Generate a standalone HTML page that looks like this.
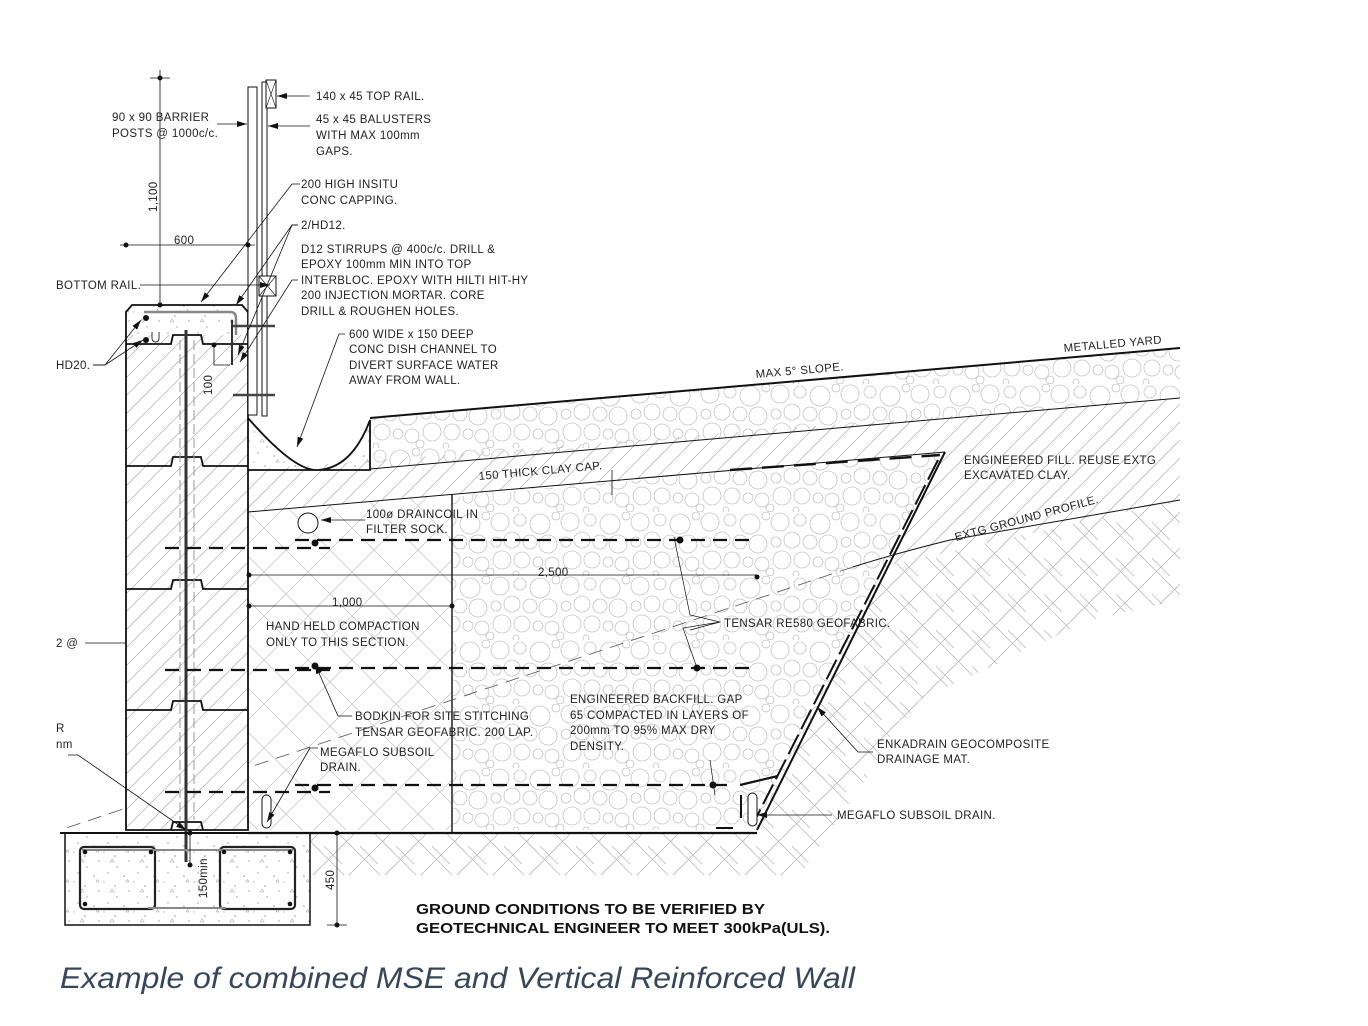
<!DOCTYPE html>
<html><head><meta charset="utf-8"><style>
html,body{margin:0;padding:0;background:#fff;width:1368px;height:1026px;overflow:hidden}
svg{display:block}
.t{font-family:"Liberation Sans",sans-serif;font-size:11.5px;fill:#222;letter-spacing:0.35px}
</style></head><body>
<svg width="1368" height="1026" viewBox="0 0 1368 1026" xmlns="http://www.w3.org/2000/svg">
<defs>
<pattern id="diag" width="18" height="18" patternUnits="userSpaceOnUse">
<path d="M0 18 L18 0 M-4 4 L4 -4 M14 22 L22 14" stroke="#bbb" stroke-width="0.8"/>
</pattern>
<pattern id="cross" width="44" height="44" patternUnits="userSpaceOnUse">
<path d="M0 44 L44 0 M0 0 L44 44" stroke="#ccc" stroke-width="0.8"/>
</pattern>
<pattern id="nat" width="36" height="36" patternUnits="userSpaceOnUse">
<path d="M0 36 L36 0 M-9 9 L9 -9 M27 45 L45 27 M0 27 L9 36 M0 18 L18 36 M9 0 L36 27" stroke="#bbb" stroke-width="0.8"/>
</pattern>
<pattern id="grav" width="70" height="64" patternUnits="userSpaceOnUse">
<g fill="none" stroke="#c4c4c4" stroke-width="0.8">
<circle cx="10" cy="10" r="9"/><circle cx="30" cy="8" r="6"/><circle cx="50" cy="12" r="10"/><circle cx="66" cy="4" r="4"/>
<circle cx="6" cy="30" r="5"/><circle cx="22" cy="28" r="8"/><circle cx="40" cy="30" r="7"/><circle cx="58" cy="32" r="9"/>
<circle cx="12" cy="48" r="9"/><circle cx="32" cy="48" r="8"/><circle cx="48" cy="50" r="5"/><circle cx="62" cy="52" r="7"/>
<circle cx="26" cy="62" r="3"/><circle cx="0" cy="60" r="4"/><circle cx="70" cy="60" r="4"/>
</g>
</pattern>
<pattern id="conc" width="30" height="30" patternUnits="userSpaceOnUse">
<g fill="#999"><circle cx="4" cy="6" r="0.8"/><circle cx="18" cy="3" r="0.7"/><circle cx="25" cy="16" r="0.8"/><circle cx="9" cy="21" r="0.7"/><circle cx="14" cy="12" r="0.6"/><circle cx="27" cy="27" r="0.7"/></g>
<path d="M20 22 l2 -3 l2 3z M6 12 l1.5 -2.5 l1.5 2.5z" fill="none" stroke="#aaa" stroke-width="0.6"/>
</pattern>
<marker id="ar" viewBox="0 0 10 6" refX="10" refY="3" markerWidth="10" markerHeight="6" orient="auto" markerUnits="userSpaceOnUse">
<path d="M0 0 L10 3 L0 6z" fill="#111"/>
</marker>
</defs>

<polygon points="248,470 1180,398 1180,500 890,565 757,830 248,830" fill="url(#diag)"/>
<polygon points="248,512 945,452 757,830 248,830" fill="#fff"/>
<polygon points="248,512 945,452 757,830 248,830" fill="url(#cross)"/>
<polygon points="452,497 945,452 757,830 452,830" fill="#fff"/>
<polygon points="452,497 945,452 757,830 452,830" fill="url(#grav)"/>
<polygon points="370,418 1180,348 1180,398 370,469" fill="url(#grav)"/>
<polygon points="310,833 757,833 890,565 1000,540 1180,500 1180,600 1090,620 920,700 800,875 310,875" fill="url(#nat)"/>
<polygon points="900,720 1180,620 1180,880 810,880" fill="#fff"/>

<g stroke="#111" fill="none">
<path d="M370,418 L1180,348" stroke-width="2"/>
<path d="M370,469 L1180,398" stroke-width="1"/>
<path d="M248,512 L945,452" stroke-width="1"/>
<path d="M945,452 L757,830" stroke-width="2"/>
<path d="M938,460 L752,826" stroke-width="2" stroke-dasharray="22,6"/>
<path d="M248,833 L757,833" stroke-width="2.2"/>
<path d="M452,495 L452,833" stroke-width="1.4"/>
<path d="M853,567 Q890,555 950,540 L1180,500" stroke-width="1"/>
<path d="M853,567 L60,830" stroke-width="0.8" stroke-dasharray="14,8" stroke="#555"/>
<path d="M730,470 L940,455" stroke-width="2.4" stroke-dasharray="22,10"/>
</g>

<path d="M248,418 Q300,475 330,470 Q360,465 370,418 L370,470 L248,470Z" fill="url(#conc)"/>
<path d="M248,418 Q295,472 318,470 Q352,468 370,420 L370,470 L248,470" fill="none" stroke="#111" stroke-width="1.8"/>

<path d="M132,305 L242,305 L248,312 L248,830 L126,830 L126,312Z" fill="#fff"/>
<path d="M126,335 L248,335 L248,830 L126,830Z" fill="url(#diag)"/>
<path d="M128,306 L246,306 L248,335 L126,335Z" fill="url(#conc)"/>
<g fill="none" stroke="#111" stroke-width="1.8">
<path d="M132,305 L242,305 L248,312 L248,830 L126,830 L126,312Z"/>
<path d="M126,344 L171,344 L173,335 L201,335 L203,344 L248,344"/>
<path d="M126,466 L171,466 L173,457 L201,457 L203,466 L248,466"/>
<path d="M126,589 L171,589 L173,580 L201,580 L203,589 L248,589"/>
<path d="M126,710 L171,710 L173,701 L201,701 L203,710 L248,710"/>
<path d="M171,830 L173,822 L201,822 L203,830"/>
</g>
<path d="M144,312 L230,312 Q236,312 236,318 L236,335" fill="none" stroke="#888" stroke-width="2.5"/>
<line x1="186" y1="330" x2="186" y2="855" stroke="#333" stroke-width="3"/>
<line x1="180" y1="340" x2="180" y2="820" stroke="#999" stroke-width="1" stroke-dasharray="10,4"/>
<line x1="194" y1="340" x2="194" y2="820" stroke="#999" stroke-width="1" stroke-dasharray="10,4"/>
<circle cx="146" cy="318" r="3" fill="#111"/><circle cx="146" cy="340" r="3" fill="#111"/>
<path d="M152,332 l0 6 q0 4 4 4 q3 0 3 -4 l0 -6" fill="none" stroke="#333" stroke-width="1"/>
<line x1="232" y1="320" x2="232" y2="365" stroke="#333" stroke-width="2"/>

<g stroke="#111" stroke-width="2.2" fill="none" stroke-dasharray="14,8">
<path d="M165,548 L330,548"/><path d="M295,540 L757,540"/>
<path d="M165,670 L330,670"/><path d="M295,668 L757,668"/>
<path d="M165,792 L330,792"/><path d="M295,785 L735,785"/>
</g>
<path d="M740,785 L778,776" stroke="#111" stroke-width="2.2"/>
<g fill="#111"><circle cx="315" cy="543" r="3.5"/><circle cx="315" cy="666" r="3.5"/><circle cx="315" cy="788" r="3.5"/>
<circle cx="680" cy="540" r="3.5"/><circle cx="697" cy="668" r="3.5"/><circle cx="713" cy="785" r="3.5"/></g>
<circle cx="308" cy="523" r="10" fill="#fff" stroke="#111" stroke-width="1"/>
<rect x="262" y="795" width="9" height="33" rx="4.5" fill="#fff" stroke="#111"/>
<rect x="748" y="793" width="9" height="33" rx="4.5" fill="#fff" stroke="#111"/>
<line x1="741" y1="795" x2="741" y2="818" stroke="#111" stroke-width="2"/>
<line x1="716" y1="828" x2="733" y2="828" stroke="#111" stroke-width="2"/>

<rect x="65" y="833" width="245" height="92" fill="url(#conc)" stroke="#111" stroke-width="1.5"/>
<path d="M60,833 L310,833" stroke="#111" stroke-width="2"/>
<g fill="none" stroke="#222" stroke-width="2.2">
<rect x="80" y="847" width="75" height="62" rx="4"/>
<rect x="220" y="847" width="75" height="62" rx="4"/>
</g>
<path d="M82,850 L293,850 M148,908 L226,908" stroke="#888" stroke-width="2" fill="none"/>
<line x1="186" y1="855" x2="186" y2="862" stroke="#333" stroke-width="3"/>
<g fill="#111"><circle cx="85" cy="852" r="2.3"/><circle cx="151" cy="852" r="2.3"/><circle cx="224" cy="852" r="2.3"/><circle cx="290" cy="852" r="2.3"/><circle cx="85" cy="904" r="2.3"/><circle cx="290" cy="904" r="2.3"/></g>

<g stroke="#111" fill="#fff" stroke-width="1">
<rect x="248" y="87" width="9" height="328"/>
<rect x="262" y="82" width="5" height="334"/>
<rect x="266" y="80" width="10" height="28"/>
<rect x="259" y="276" width="17" height="20"/>
</g>
<path d="M266,80 L276,108 M276,80 L266,108 M259,276 L276,296 M276,276 L259,296" stroke="#111" stroke-width="0.6"/>
<path d="M233,326 L275,326 M233,395 L275,395" stroke="#444" stroke-width="2.5"/>

<g stroke="#111" stroke-width="0.8" fill="none">
<path d="M160,70 L160,305 M150,78 L170,78"/>
<path d="M120,245 L255,245"/>
<path d="M214,345 L214,365 L230,365"/>
<path d="M249,575 L757,575"/>
<path d="M249,606 L452,606"/>
<path d="M337,833 L337,925 M327,925 L347,925"/>
<path d="M190,833 L190,865"/>
<path d="M612,495 L612,470"/>
<path d="M85,643 L126,643"/>
</g>
<g fill="#111"><circle cx="160" cy="78" r="2.5"/><circle cx="160" cy="305" r="2.5"/><circle cx="126" cy="245" r="2.5"/><circle cx="248" cy="245" r="2.5"/>
<circle cx="214" cy="345" r="2.5"/><circle cx="249" cy="575" r="2.5"/><circle cx="757" cy="577" r="2.5"/><circle cx="249" cy="606" r="2.5"/><circle cx="452" cy="606" r="2.5"/>
<circle cx="337" cy="833" r="2.5"/><circle cx="337" cy="925" r="2.5"/><circle cx="190" cy="833" r="2.5"/><circle cx="190" cy="865" r="2.5"/></g>

<g stroke="#111" stroke-width="0.8" fill="none" marker-end="url(#ar)">
<path d="M310,96 L277,96"/>
<path d="M217,124 L247,124"/>
<path d="M310,126 L268,126"/>
<path d="M300,184 L292,184 L201,302"/>
<path d="M298,225 L292,225 L236,305"/>
<path d="M298,225 L292,225 L238,355"/>
<path d="M140,285 L270,285"/>
<path d="M298,280 L292,280 L240,362"/>
<path d="M93,365 L105,365 L141,320"/>
<path d="M93,365 L105,365 L143,340"/>
<path d="M345,334 L339,334 L297,447"/>
<path d="M365,520 L321,520"/>
<path d="M352,716 L338,716 L315,664"/>
<path d="M318,748 L310,748 L267,822"/>
<path d="M68,755 L78,755 L186,830"/>
<path d="M832,815 L757,815"/>
<path d="M873,752 L858,752 L817,707"/>
</g>
<path d="M674,537 L690,615 L720,622 L683,628 L697,668 M720,622 L690,630 M710,760 L715,795" stroke="#111" stroke-width="0.7" fill="none"/>

<g class="t">
<text x="316" y="100">140 x 45 TOP RAIL.</text>
<text x="112" y="121">90 x 90 BARRIER</text>
<text x="112" y="137">POSTS @ 1000c/c.</text>
<text x="316" y="123">45 x 45 BALUSTERS</text>
<text x="316" y="139">WITH MAX 100mm</text>
<text x="316" y="155">GAPS.</text>
<text x="301" y="188">200 HIGH INSITU</text>
<text x="301" y="204">CONC CAPPING.</text>
<text x="301" y="229">2/HD12.</text>
<text x="301" y="253">D12 STIRRUPS @ 400c/c. DRILL &amp;</text>
<text x="301" y="268">EPOXY 100mm MIN INTO TOP</text>
<text x="301" y="284">INTERBLOC. EPOXY WITH HILTI HIT-HY</text>
<text x="301" y="299">200 INJECTION MORTAR. CORE</text>
<text x="301" y="315">DRILL &amp; ROUGHEN HOLES.</text>
<text x="349" y="338">600 WIDE x 150 DEEP</text>
<text x="349" y="353">CONC DISH CHANNEL TO</text>
<text x="349" y="369">DIVERT SURFACE WATER</text>
<text x="349" y="384">AWAY FROM WALL.</text>
<text x="56" y="289">BOTTOM RAIL.</text>
<text x="56" y="369">HD20.</text>
<text x="174" y="244">600</text>
<text x="56" y="647">2 @</text>
<text x="56" y="732">R</text>
<text x="56" y="748">nm</text>
<text transform="translate(157,212) rotate(-90)">1,100</text>
<text transform="translate(212,395) rotate(-90)">100</text>
<text transform="translate(334,890) rotate(-90)">450</text>
<text transform="translate(207,898) rotate(-90)">150min</text>
<text transform="translate(756,378) rotate(-5)">MAX 5° SLOPE.</text>
<text transform="translate(1064,352) rotate(-5)">METALLED YARD</text>
<text transform="translate(479,480) rotate(-5)">150 THICK CLAY CAP.</text>
<text x="964" y="464">ENGINEERED FILL. REUSE EXTG</text>
<text x="964" y="479">EXCAVATED CLAY.</text>
<text transform="translate(956,541) rotate(-15)">EXTG GROUND PROFILE.</text>
<text x="366" y="518">100ø DRAINCOIL IN</text>
<text x="366" y="533">FILTER SOCK.</text>
<text x="538" y="576">2,500</text>
<text x="332" y="606">1,000</text>
<text x="724" y="627">TENSAR RE580 GEOFABRIC.</text>
<text x="266" y="630">HAND HELD COMPACTION</text>
<text x="266" y="646">ONLY TO THIS SECTION.</text>
<text x="570" y="703">ENGINEERED BACKFILL. GAP</text>
<text x="570" y="719">65 COMPACTED IN LAYERS OF</text>
<text x="570" y="734">200mm TO 95% MAX DRY</text>
<text x="570" y="750">DENSITY.</text>
<text x="355" y="720">BODKIN FOR SITE STITCHING</text>
<text x="355" y="736">TENSAR GEOFABRIC. 200 LAP.</text>
<text x="320" y="756">MEGAFLO SUBSOIL</text>
<text x="320" y="771">DRAIN.</text>
<text x="877" y="748">ENKADRAIN GEOCOMPOSITE</text>
<text x="877" y="763">DRAINAGE MAT.</text>
<text x="837" y="819">MEGAFLO SUBSOIL DRAIN.</text>
</g>
<text x="416" y="914" font-family="Liberation Sans, sans-serif" font-weight="bold" font-size="15" fill="#111" textLength="349" lengthAdjust="spacingAndGlyphs">GROUND CONDITIONS TO BE VERIFIED BY</text>
<text x="416" y="933" font-family="Liberation Sans, sans-serif" font-weight="bold" font-size="15" fill="#111" textLength="414" lengthAdjust="spacingAndGlyphs">GEOTECHNICAL ENGINEER TO MEET 300kPa(ULS).</text>
<text x="60" y="988" font-family="Liberation Sans, sans-serif" font-style="italic" font-size="30" fill="#37475a" textLength="795" lengthAdjust="spacingAndGlyphs">Example of combined MSE and Vertical Reinforced Wall</text>
</svg>
</body></html>
